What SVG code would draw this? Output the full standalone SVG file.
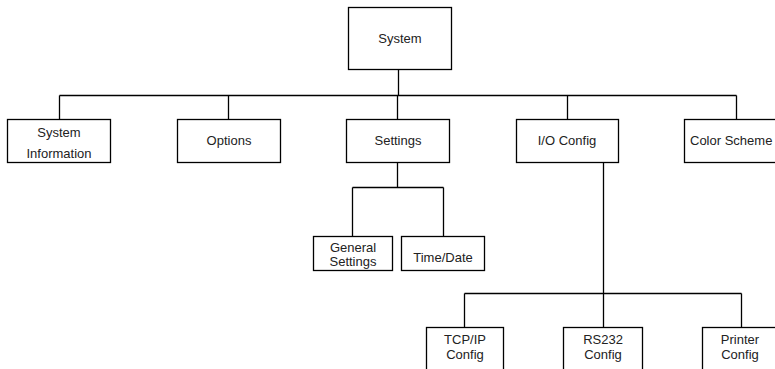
<svg xmlns="http://www.w3.org/2000/svg" width="775" height="369" viewBox="0 0 775 369">
<style>
.box{fill:#fff;stroke:#000;stroke-width:1.3}
.t{font-family:"Liberation Sans",Arial,sans-serif;font-size:13px;fill:#222;text-anchor:middle}
.c{fill:none;stroke:#000;stroke-width:1.3}
</style>
<rect width="775" height="369" fill="#fff"/>
<g id="connectors">
<path class="c" d="M398.5 69V95.5M59.5 95.5H736.5M59.5 95.5V119M228.5 95.5V119M397.5 95.5V119M567.5 95.5V119M736.5 95.5V119"/>
<path class="c" d="M397.5 162V187.5M352.5 187.5H443.5M352.5 187.5V236M443.5 187.5V236"/>
<path class="c" d="M603.5 162V293.5M464.5 293.5H741.5M464.5 293.5V327M603.5 293.5V327M741.5 293.5V327"/>
</g>
<g id="system"><rect class="box" x="348.5" y="7.5" width="103" height="62"/><text class="t" x="400" y="43">System</text></g>
<g id="system-information"><rect class="box" x="7.5" y="119.5" width="103" height="43"/><text class="t" x="59" y="137">System</text><text class="t" x="59" y="158">Information</text></g>
<g id="options"><rect class="box" x="177.5" y="119.5" width="103" height="43"/><text class="t" x="229" y="145">Options</text></g>
<g id="settings"><rect class="box" x="346.5" y="119.5" width="103" height="43"/><text class="t" x="398" y="145">Settings</text></g>
<g id="io-config"><rect class="box" x="516.5" y="119.5" width="102" height="43"/><text class="t" x="567" y="145">I/O Config</text></g>
<g id="color-scheme"><rect class="box" x="684.5" y="119.5" width="103" height="43"/><text class="t" x="690" y="145" style="text-anchor:start">Color Scheme</text></g>
<g id="general-settings"><rect class="box" x="313.5" y="236.5" width="79" height="34"/><text class="t" x="353" y="252">General</text><text class="t" x="353" y="266">Settings</text></g>
<g id="time-date"><rect class="box" x="401.5" y="236.5" width="83" height="34"/><text class="t" x="443" y="262">Time/Date</text></g>
<g id="tcpip-config"><rect class="box" x="426.5" y="327.5" width="77" height="50"/><text class="t" x="465" y="344">TCP/IP</text><text class="t" x="465" y="359">Config</text></g>
<g id="rs232-config"><rect class="box" x="563.5" y="327.5" width="79" height="50"/><text class="t" x="603" y="344">RS232</text><text class="t" x="603" y="359">Config</text></g>
<g id="printer-config"><rect class="box" x="702.5" y="327.5" width="79" height="50"/><text class="t" x="740" y="344">Printer</text><text class="t" x="740" y="359">Config</text></g>
</svg>
